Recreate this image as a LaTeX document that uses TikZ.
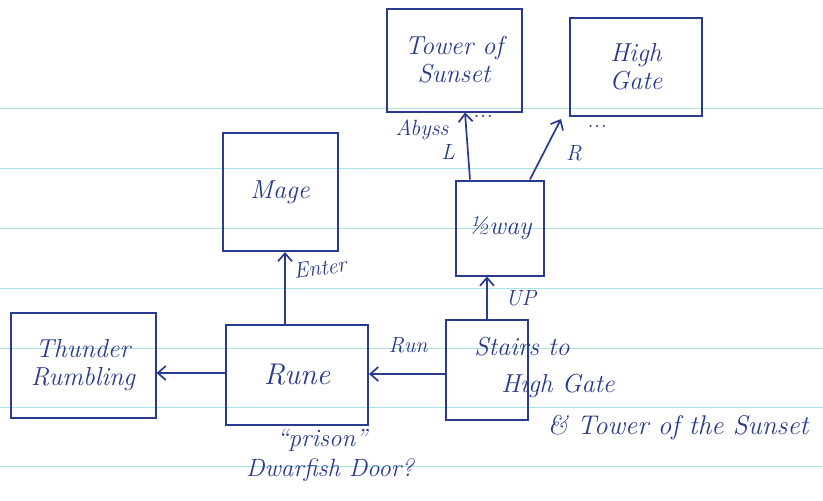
\documentclass[tikz,border=0pt]{standalone}
\usetikzlibrary{arrows.meta}
\definecolor{ink}{RGB}{42,58,140}
\definecolor{rule}{RGB}{170,226,232}
\tikzset{
  box/.style={draw=ink, line width=2pt, rectangle, inner sep=0pt, align=center,
    text=ink, font=\fontsize{26}{28}\selectfont\itshape},
  lbl/.style={text=ink, inner sep=0pt, font=\fontsize{22}{24}\selectfont\itshape},
  arr/.style={draw=ink, line width=1.7pt, -{Straight Barb[length=8pt,width=14pt]}},
  paperline/.style={draw=rule, line width=0.9pt}
}
\begin{document}
\begin{tikzpicture}[x=1pt,y=-1pt]
\useasboundingbox (0,0) rectangle (823,501);
\fill[white] (0,0) rectangle (823,501);
% ruled paper
\foreach \yy in {108,168,228,288,348,407,466}
  \draw[paperline] (0,\yy) -- (823,\yy);
% boxes
\node[box, minimum width=135pt, minimum height=103pt] (tower) at (454,60) {Tower of\\Sunset};
\node[box, minimum width=132pt, minimum height=98pt] (gate) at (636,67) {High\\Gate};
\node[box, minimum width=88pt, minimum height=95pt] (half) at (500,228) {½way};
\node[box, minimum width=115pt, minimum height=118pt] (mage) at (280,192) {Mage};
\node[box, minimum width=145pt, minimum height=105pt] (thunder) at (83,365) {Thunder\\Rumbling};
\node[box, minimum width=142pt, minimum height=100pt, font=\fontsize{30}{32}\selectfont\itshape] (rune) at (297,375) {Rune};
\node[box, minimum width=82pt, minimum height=100pt] (stairs) at (487,370) {};
% stairs text
\node[lbl, font=\fontsize{26}{28}\selectfont\itshape] (st1) at (522,347) {Stairs to};
\node[lbl, font=\fontsize{26}{28}\selectfont\itshape] (st2) at (558,386) {High Gate};
\node[lbl, font=\fontsize{27}{29}\selectfont\itshape] (st3) at (678,428) {\& Tower of the Sunset};
% connectors
\draw[arr] (rune.north -| 285,0) -- (mage.south -| 285,0);
\draw[arr] (stairs.north) -- (stairs.north |- half.south);
\draw[arr] ([xshift=-30pt]half.north) -- ([xshift=11pt]tower.south);
\draw[arr] ([xshift=30pt]half.north) -- ([xshift=-8pt,yshift=-2pt]gate.south west);
\draw[arr] (stairs.west |- 0,374) -- (rune.east |- 0,374);
\draw[arr] (rune.west |- 0,373) -- (thunder.east |- 0,373);
% labels
\node[lbl, rotate=8] (enter) at (320,268) {Enter};
\node[lbl] (up) at (521,298) {UP};
\node[lbl] (run) at (408,345) {Run};
\node[lbl] (abyss) at (422,130) {Abyss};
\node[lbl] (dots1) at (483,116) {...};
\node[lbl] (dots2) at (597,126) {...};
\node[lbl] (lL) at (448,152) {L};
\node[lbl] (lR) at (574,153) {R};
\node[lbl, font=\fontsize{25}{27}\selectfont\itshape] (prison) at (322,440) {“prison”};
\node[lbl, font=\fontsize{25}{27}\selectfont\itshape] (dwarf) at (330,470) {Dwarfish Door?};
\end{tikzpicture}
\end{document}
